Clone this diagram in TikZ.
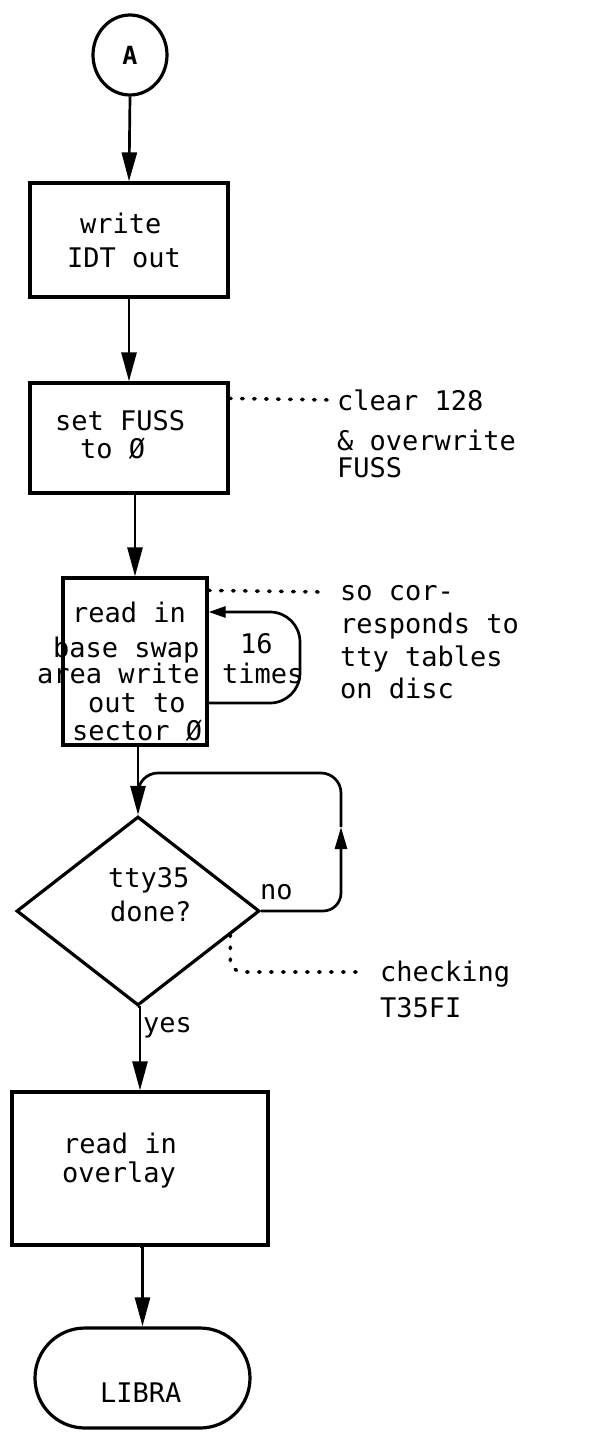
\documentclass[tikz,border=0pt]{standalone}
\usepackage{fontspec}
\newfontfamily\plotfont{DejaVu Sans Mono}
\usetikzlibrary{arrows.meta,shapes.geometric,shapes.misc,calc}
\begin{document}
\begin{tikzpicture}[x=1pt,y=-1pt,
  shapeline/.style={draw=black, line width=3.2pt},
  boxnode/.style={shapeline, rectangle, inner sep=0pt},
  conn/.style={line width=2.7pt, -{Triangle[length=29pt,width=15pt]}},
  plainline/.style={line width=2.7pt},
  noteline/.style={line width=3.6pt, line cap=round, dash pattern=on 1.5pt off 10.5pt},
  txt/.style={font=\plotfont\fontsize{27}{30}\selectfont, inner sep=0pt, anchor=base west},
]
\useasboundingbox (0,0) rectangle (603,1432);
\clip (0,0) rectangle (603,1432);

% shapes
\node[shapeline, ellipse, minimum width=74pt, minimum height=80pt, inner sep=0pt,
      font=\plotfont\bfseries\fontsize{25}{30}\selectfont] (A) at (130,55) {A};
\node[boxnode, minimum width=198pt, minimum height=114pt] (b1) at (129,240) {};
\node[boxnode, minimum width=198pt, minimum height=110pt] (b2) at (129,438) {};
\node[boxnode, minimum width=144pt, minimum height=167pt] (b3) at (135,661.5) {};
\node[shapeline, diamond, minimum width=243pt, minimum height=189pt, inner sep=0pt] (d) at (138,911) {};
\node[boxnode, minimum width=256pt, minimum height=153pt] (b4) at (140,1168.5) {};
\node[shapeline, rounded rectangle, minimum width=215pt, minimum height=100pt, inner sep=0pt] (term) at (142.5,1378) {};

% texts
\node[txt] (w1) at (80,233) {write};
\node[txt] (w2) at (67,267) {IDT out};
\node[txt] (s1) at (55,430) {set FUSS};
\node[txt] (s2) at (80,458) {to Ø};
\node[txt] (c1) at (337,410) {clear 128};
\node[txt] (c2) at (337,450) {\& overwrite};
\node[txt] (c3) at (337,477) {FUSS};
\node[txt] (r1) at (72,622) {read in};
\node[txt] (r2) at (53,657) {base swap};
\node[txt] (r3) at (37,683) {area write};
\node[txt] (r4) at (88,712) {out to};
\node[txt] (r5) at (72,740) {sector Ø};
\node[txt] (k1) at (240,653) {16};
\node[txt] (k2) at (222,683) {times};
\node[txt] (o1) at (340,600) {so cor-};
\node[txt] (o2) at (340,633) {responds to};
\node[txt] (o3) at (340,666) {tty tables};
\node[txt] (o4) at (340,698) {on disc};
\node[txt] (q1) at (108,887) {tty35};
\node[txt] (q2) at (110,921) {done?};
\node[txt] (no) at (260,899) {no};
\node[txt] (h1) at (380,981) {checking};
\node[txt] (h2) at (380,1017) {T35FI};
\node[txt] (yes) at (143,1032) {yes};
\node[txt] (v1) at (63,1153) {read in};
\node[txt] (v2) at (62,1182) {overlay};
\node[txt] (lb) at (100,1402) {LIBRA};

% connectors
\draw[conn] (A.south) -- (b1.north);
\draw[conn] (b1.south) -- (b2.north);
\draw[conn] (b2.south -| b3.north) -- (b3.north);
\draw[conn] (b3.south -| d.north) -- (d.north);
\draw[line width=2.7pt, -{Triangle[length=17pt,width=11pt]}, rounded corners=30pt]
  ([yshift=-41.5pt]b3.east) -- (300,703) -- (300,612) -- ([yshift=49.5pt]b3.east);
\coordinate (nup) at (341,827);
\coordinate (ntop) at (138,773);
\coordinate (njoin) at (138,800);
\draw[line width=2.7pt, -{Triangle[length=22pt,width=12pt]}, rounded corners=18pt] (d.east) -| (nup);
\draw[plainline, rounded corners=20pt] (nup) -- (341,773) -- (ntop) -- (njoin);
\draw[conn] (d.south) -- (d.south -| b4.north) -- (b4.north);
\draw[conn] (b4.south) -- (b4.south -| term.north) -- (term.north);

% annotation lines
\coordinate (n1) at (333,400);
\coordinate (n2) at (322,592);
\coordinate (n3) at (358,972);
\coordinate (dq) at ($(d.east)!0.25!(d.south)$);
\draw[noteline] ([yshift=-17pt]b2.north east) -- (n1);
\draw[noteline] ([yshift=-14pt]b3.north east) -- (n2);
\draw[noteline, rounded corners=12pt] (dq) -- (dq |- n3) -- (n3);
\end{tikzpicture}
\end{document}
